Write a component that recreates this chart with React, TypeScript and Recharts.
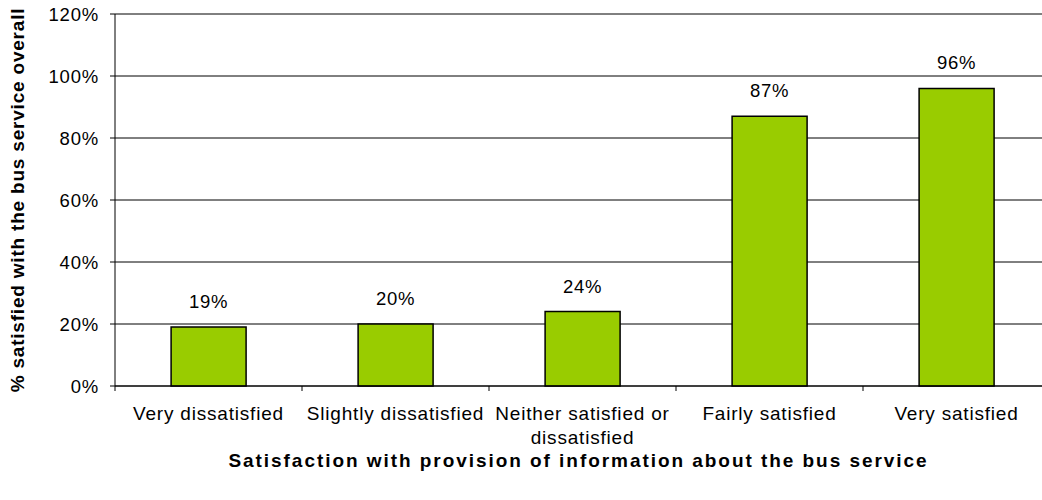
import React from 'react';
import { BarChart, Bar, XAxis, YAxis, CartesianGrid, LabelList } from 'recharts';

const categories = [
  'Very dissatisfied',
  'Slightly dissatisfied',
  'Neither satisfied or dissatisfied',
  'Fairly satisfied',
  'Very satisfied',
];
const satisfiedOverall = [19, 20, 24, 87, 96];
const yTicks = [0, 20, 40, 60, 80, 100, 120];

const data = categories.map((name, i) => ({ name, value: satisfiedOverall[i] }));

const CHART_W = 1050;
const CHART_H = 500;
const Y_AXIS_W = 115;
const BAND = (CHART_W - Y_AXIS_W) / categories.length;
const FONT = '"Liberation Sans", Arial, sans-serif';

// word wrap like Excel does for long category names
function wrap(text: string, max: number) {
  const lines: string[] = [];
  let cur = '';
  text.split(' ').forEach((w) => {
    if (cur && (cur + ' ' + w).length > max) {
      lines.push(cur);
      cur = w;
    } else {
      cur = cur ? cur + ' ' + w : w;
    }
  });
  if (cur) lines.push(cur);
  return lines;
}

function CategoryTick(props: any) {
  const { x, y, payload } = props;
  const lines = wrap(payload.value, 22);
  return (
    <g>
      <line x1={x - BAND / 2} x2={x - BAND / 2} y1={y} y2={y + 5} stroke="#000" />
      <text
        x={x}
        y={y}
        textAnchor="middle"
        fill="#000"
        fontSize={19}
        fontFamily={FONT}
        letterSpacing={0.8}
      >
        {lines.map((l, i) => (
          <tspan key={i} x={x} y={y + 34 + i * 24}>
            {l}
          </tspan>
        ))}
      </text>
    </g>
  );
}

function YTitle(props: any) {
  const { viewBox } = props;
  const cx = 17;
  const cy = viewBox.y + viewBox.height / 2;
  return (
    <text
      x={cx}
      y={cy}
      transform={`rotate(-90, ${cx}, ${cy})`}
      textAnchor="middle"
      dominantBaseline="central"
      fontSize={19}
      fontWeight="bold"
      fontFamily={FONT}
      letterSpacing={0.8}
      fill="#000"
    >
      % satisfied with the bus service overall
    </text>
  );
}

function XTitle(props: any) {
  const { viewBox } = props;
  const cx = viewBox.x + viewBox.width / 2 - 4;
  return (
    <text
      x={cx}
      y={467}
      textAnchor="middle"
      fontSize={19}
      fontWeight="bold"
      fontFamily={FONT}
      fill="#000"
      letterSpacing={1.95}
    >
      Satisfaction with provision of information about the bus service
    </text>
  );
}

export default function App() {
  return (
    <div
      style={{
        position: 'absolute',
        left: 0,
        top: 0,
        width: 1042,
        height: 500,
        overflow: 'hidden',
        background: '#fff',
      }}
    >
      <BarChart
        width={CHART_W}
        height={CHART_H}
        data={data}
        margin={{ top: 14, right: 0, bottom: 0, left: 0 }}
        barCategoryGap="30%"
      >
        <CartesianGrid vertical={false} stroke="#000" />
        <XAxis
          dataKey="name"
          height={114}
          axisLine={{ stroke: '#000' }}
          tickLine={false}
          tickSize={0}
          tickMargin={0}
          interval={0}
          tick={<CategoryTick />}
          label={<XTitle />}
        />
        <YAxis
          width={Y_AXIS_W}
          domain={[0, 120]}
          ticks={yTicks}
          tickFormatter={(v) => `${v}%`}
          axisLine={{ stroke: '#000' }}
          tickLine={{ stroke: '#000' }}
          tickSize={5}
          tickMargin={11}
          tick={{ fill: '#000', fontSize: 18.5, fontFamily: FONT, letterSpacing: 0.8 }}
          label={<YTitle />}
        />
        <Bar
          dataKey="value"
          fill="#99CC00"
          stroke="#000"
          strokeWidth={1.5}
          isAnimationActive={false}
        >
          <LabelList
            dataKey="value"
            position="top"
            offset={19}
            formatter={(v: any) => `${v}%`}
            fill="#000"
            fontSize={18.5}
            fontFamily={FONT}
            letterSpacing={0.8}
          />
        </Bar>
      </BarChart>
    </div>
  );
}
